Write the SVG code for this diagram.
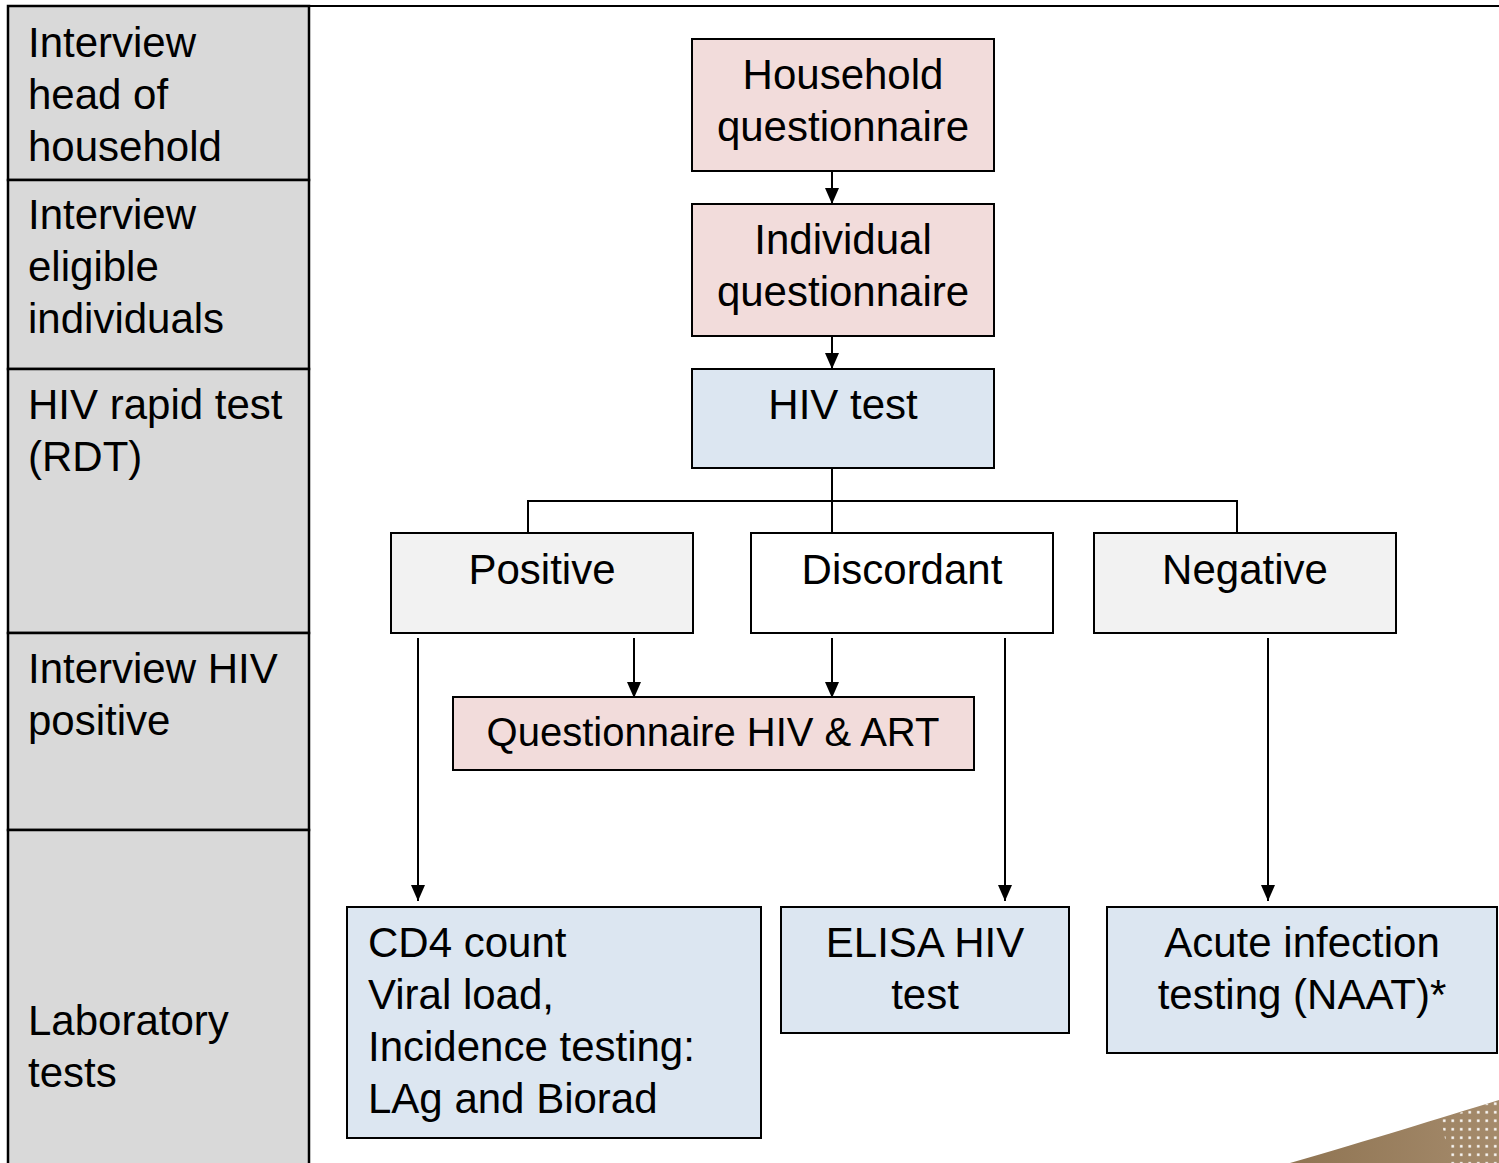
<svg xmlns="http://www.w3.org/2000/svg" width="1499" height="1163" viewBox="0 0 1499 1163">
<style>
.t{font-family:"Liberation Sans",Arial,sans-serif;font-size:42px;fill:#000}
.m{text-anchor:middle}
.box{stroke:#000;stroke-width:2}
.lane{fill:#d9d9d9;stroke:#000;stroke-width:2.5}
.c{stroke:#000;stroke-width:2;fill:none}
</style>
<defs>
<marker id="ah" viewBox="0 0 16 14" refX="16" refY="7" markerWidth="16" markerHeight="14" markerUnits="userSpaceOnUse" orient="auto">
<path d="M0,0 L16,7 L0,14 Z" fill="#000"/>
</marker>
<linearGradient id="wg" x1="0" y1="0" x2="1" y2="0">
<stop offset="0" stop-color="#8f7452"/>
<stop offset="1" stop-color="#a58b6c"/>
</linearGradient>
<pattern id="dots" x="1440" y="1108" width="8.5" height="8.5" patternUnits="userSpaceOnUse">
<rect x="3" y="3" width="2.5" height="2.5" fill="#fff"/>
</pattern>
</defs>
<rect x="0" y="0" width="1499" height="1163" fill="#fff"/>
<path d="M1290,1163 C1370,1140 1440,1118 1499,1100 L1499,1163 Z" fill="url(#wg)"/>
<path d="M1441,1119 L1499,1100 L1499,1163 L1450,1163 Z" fill="url(#dots)"/>
<g id="frame">
<line x1="8" y1="6" x2="1499" y2="6" class="c" stroke-width="2.5"/>
<line x1="309" y1="6" x2="309" y2="1163" class="c" stroke-width="2.5"/>
</g>
<g id="lane1"><rect class="lane" x="8" y="6" width="301" height="174"/>
<text class="t" x="28" y="57">Interview</text><text class="t" x="28" y="109">head of</text><text class="t" x="28" y="161">household</text></g>
<g id="lane2"><rect class="lane" x="8" y="180" width="301" height="189"/>
<text class="t" x="28" y="229">Interview</text><text class="t" x="28" y="281">eligible</text><text class="t" x="28" y="333">individuals</text></g>
<g id="lane3"><rect class="lane" x="8" y="369" width="301" height="264"/>
<text class="t" x="28" y="419">HIV rapid test</text><text class="t" x="28" y="471">(RDT)</text></g>
<g id="lane4"><rect class="lane" x="8" y="633" width="301" height="197"/>
<text class="t" x="28" y="683">Interview HIV</text><text class="t" x="28" y="735">positive</text></g>
<g id="lane5"><rect class="lane" x="8" y="830" width="301" height="340"/>
<text class="t" x="28" y="1035">Laboratory</text><text class="t" x="28" y="1087">tests</text></g>
<g id="connectors">
<line class="c" x1="832" y1="171" x2="832" y2="204" marker-end="url(#ah)"/>
<line class="c" x1="832" y1="336" x2="832" y2="369" marker-end="url(#ah)"/>
<line class="c" x1="832" y1="468" x2="832" y2="533"/>
<polyline class="c" points="528,533 528,501 1237,501 1237,533"/>
<line class="c" x1="418" y1="638" x2="418" y2="901" marker-end="url(#ah)"/>
<line class="c" x1="634" y1="638" x2="634" y2="698" marker-end="url(#ah)"/>
<line class="c" x1="832" y1="638" x2="832" y2="698" marker-end="url(#ah)"/>
<line class="c" x1="1005" y1="638" x2="1005" y2="901" marker-end="url(#ah)"/>
<line class="c" x1="1268" y1="638" x2="1268" y2="901" marker-end="url(#ah)"/>
</g>
<g id="household"><rect class="box" x="692" y="39" width="302" height="132" fill="#f2dcdb"/>
<text class="t m" x="843" y="89">Household</text><text class="t m" x="843" y="141">questionnaire</text></g>
<g id="individual"><rect class="box" x="692" y="204" width="302" height="132" fill="#f2dcdb"/>
<text class="t m" x="843" y="254">Individual</text><text class="t m" x="843" y="306">questionnaire</text></g>
<g id="hivtest"><rect class="box" x="692" y="369" width="302" height="99" fill="#dce6f1"/>
<text class="t m" x="843" y="419">HIV test</text></g>
<g id="positive"><rect class="box" x="391" y="533" width="302" height="100" fill="#f2f2f2"/>
<text class="t m" x="542" y="584">Positive</text></g>
<g id="discordant"><rect class="box" x="751" y="533" width="302" height="100" fill="#fff"/>
<text class="t m" x="902" y="584">Discordant</text></g>
<g id="negative"><rect class="box" x="1094" y="533" width="302" height="100" fill="#f2f2f2"/>
<text class="t m" x="1245" y="584">Negative</text></g>
<g id="qhivart"><rect class="box" x="453" y="697" width="521" height="73" fill="#f2dcdb"/>
<text class="t m" x="713" y="746" style="font-size:40px">Questionnaire HIV &amp; ART</text></g>
<g id="cd4"><rect class="box" x="347" y="907" width="414" height="231" fill="#dce6f1"/>
<text class="t" x="368" y="957">CD4 count</text><text class="t" x="368" y="1009">Viral load,</text><text class="t" x="368" y="1061">Incidence testing:</text><text class="t" x="368" y="1113">LAg and Biorad</text></g>
<g id="elisa"><rect class="box" x="781" y="907" width="288" height="126" fill="#dce6f1"/>
<text class="t m" x="925" y="957">ELISA HIV</text><text class="t m" x="925" y="1009">test</text></g>
<g id="acute"><rect class="box" x="1107" y="907" width="390" height="146" fill="#dce6f1"/>
<text class="t m" x="1302" y="957">Acute infection</text><text class="t m" x="1302" y="1009">testing (NAAT)*</text></g>
</svg>
